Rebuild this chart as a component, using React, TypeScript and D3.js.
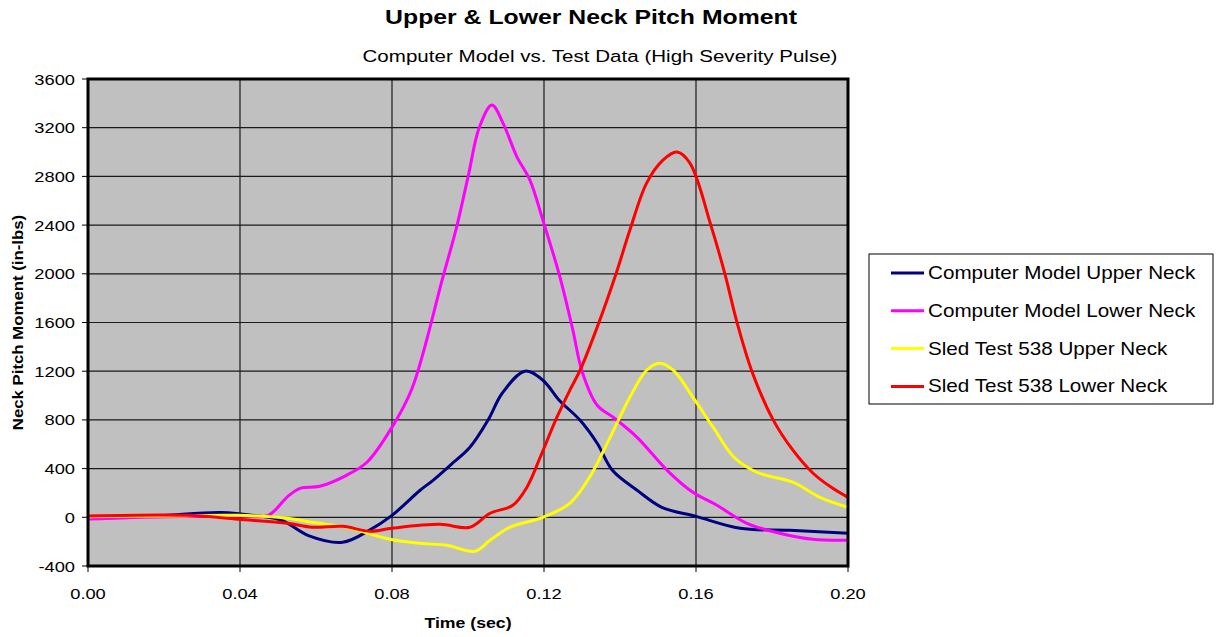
import React from 'react';
import * as d3 from 'd3';

// Time (sec) and moment (in-lbs), one pair of arrays per series
const cmUpperT = [0, 0.01, 0.02, 0.035, 0.045, 0.051, 0.058, 0.067, 0.074, 0.08, 0.0874, 0.0908, 0.0953, 0.1005, 0.1053, 0.109, 0.115, 0.1197, 0.124, 0.1295, 0.134, 0.138, 0.1445, 0.151, 0.16, 0.1716, 0.1847, 0.2];
const cmUpperV = [-10, 0, 15, 40, 10, -25, -150, -205, -107, 16, 222, 304, 427, 575, 800, 1019, 1200, 1126, 962, 797, 608, 386, 222, 82, 8, -90, -107, -131];

const cmLowerT = [0, 0.02, 0.04, 0.0474, 0.0526, 0.0558, 0.061, 0.068, 0.0734, 0.08, 0.0853, 0.0934, 0.097, 0.1, 0.103, 0.1063, 0.1092, 0.1129, 0.1163, 0.1197, 0.1242, 0.1276, 0.1300, 0.134, 0.1382, 0.1445, 0.1524, 0.1592, 0.1655, 0.1734, 0.182, 0.1908, 0.2];
const cmLowerV = [-15, 5, 10, 16, 172, 238, 255, 345, 452, 740, 1060, 1973, 2384, 2794, 3205, 3386, 3238, 2959, 2770, 2441, 1973, 1537, 1200, 920, 822, 657, 386, 205, 99, -49, -131, -181, -189];

const sledUpperT = [0, 0.02, 0.0395, 0.0526, 0.059, 0.068, 0.0795, 0.0874, 0.0945, 0.1018, 0.1058, 0.111, 0.1197, 0.1268, 0.132, 0.1374, 0.1426, 0.147, 0.1505, 0.154, 0.1597, 0.1645, 0.17, 0.176, 0.1855, 0.1926, 0.2];
const sledUpperV = [5, 10, 16, -8, -41, -82, -181, -214, -230, -279, -189, -82, 0, 115, 329, 657, 986, 1208, 1266, 1208, 962, 740, 493, 370, 288, 164, 82];

const sledLowerT = [0, 0.026, 0.0395, 0.0526, 0.059, 0.067, 0.0742, 0.08, 0.0926, 0.1005, 0.1058, 0.1118, 0.1155, 0.119, 0.1234, 0.1268, 0.1295, 0.134, 0.139, 0.1426, 0.147, 0.1513, 0.155, 0.1584, 0.1639, 0.1676, 0.1708, 0.1747, 0.1803, 0.1855, 0.1908, 0.196, 0.2];
const sledLowerV = [10, 16, -16, -49, -82, -74, -115, -90, -58, -82, 33, 99, 247, 493, 822, 1044, 1208, 1562, 2005, 2359, 2745, 2934, 3000, 2909, 2400, 2000, 1600, 1200, 800, 551, 362, 238, 164];

const seriesNames = [
  'Computer Model Upper Neck',
  'Computer Model Lower Neck',
  'Sled Test 538 Upper Neck',
  'Sled Test 538 Lower Neck',
];
const seriesColors = ['#000080', '#ff00ff', '#ffff00', '#ff0000'];

const xTicks = [0, 0.04, 0.08, 0.12, 0.16, 0.2];
const yTicks = [-400, 0, 400, 800, 1200, 1600, 2000, 2400, 2800, 3200, 3600];

const W = 1219;
const H = 637;
const plot = { left: 88, right: 848, top: 79, bottom: 566 };
const font = 'Arial, "Liberation Sans", sans-serif';
const stretch = 1.18; // the source image is widened horizontally

// text that is stretched sideways like the reference
const Txt = ({ x, y, anchor = 'start', size, bold = false, sx = stretch, children }: any) => (
  <text
    transform={`translate(${x}, ${y}) scale(${sx}, 1)`}
    textAnchor={anchor}
    fontSize={size}
    fontWeight={bold ? 'bold' : 'normal'}
  >
    {children}
  </text>
);

export default function App() {
  const x = d3.scaleLinear().domain([0, 0.2]).range([plot.left, plot.right]);
  const y = d3.scaleLinear().domain([-400, 3600]).range([plot.bottom, plot.top]);

  const series = [
    { t: cmUpperT, v: cmUpperV },
    { t: cmLowerT, v: cmLowerV },
    { t: sledUpperT, v: sledUpperV },
    { t: sledLowerT, v: sledLowerV },
  ];

  const line = d3
    .line<[number, number]>()
    .x((d) => x(d[0]))
    .y((d) => y(d[1]))
    .curve(d3.curveCatmullRom.alpha(0.5));

  const legend = { x: 869, y: 254, w: 344, h: 150 };

  return (
    <svg
      width={W}
      height={H}
      style={{ position: 'absolute', left: 0, top: 0, background: '#fff' }}
      fontFamily={font}
    >
      <Txt x={591} y={24} anchor="middle" size={20} bold sx={1.24}>
        Upper &amp; Lower Neck Pitch Moment
      </Txt>
      <Txt x={600} y={62} anchor="middle" size={17} sx={1.21}>
        Computer Model vs. Test Data (High Severity Pulse)
      </Txt>

      <clipPath id="plotClip">
        <rect x={plot.left} y={plot.top} width={plot.right - plot.left} height={plot.bottom - plot.top} />
      </clipPath>

      <rect
        x={plot.left}
        y={plot.top}
        width={plot.right - plot.left}
        height={plot.bottom - plot.top}
        fill="#c0c0c0"
      />

      {/* grid */}
      {yTicks.map((t) => (
        <line key={'gy' + t} x1={plot.left} x2={plot.right} y1={y(t)} y2={y(t)} stroke="#1a1a1a" strokeWidth={1.2} />
      ))}
      {xTicks.map((t) => (
        <line key={'gx' + t} x1={x(t)} x2={x(t)} y1={plot.top} y2={plot.bottom} stroke="#1a1a1a" strokeWidth={1.2} />
      ))}

      {/* series */}
      <g clipPath="url(#plotClip)">
        {series.map((s, i) => (
          <path
            key={seriesNames[i]}
            d={line(s.t.map((t, j) => [t, s.v[j]] as [number, number])) || ''}
            fill="none"
            stroke={seriesColors[i]}
            strokeWidth={3}
            strokeLinejoin="round"
          />
        ))}
      </g>

      {/* border */}
      <rect
        x={plot.left}
        y={plot.top}
        width={plot.right - plot.left}
        height={plot.bottom - plot.top}
        fill="none"
        stroke="#000"
        strokeWidth={3}
      />

      {/* y axis ticks + labels */}
      {yTicks.map((t) => (
        <g key={'yt' + t}>
          <line x1={plot.left - 6} x2={plot.left} y1={y(t)} y2={y(t)} stroke="#000" strokeWidth={1} />
          <Txt x={75} y={y(t) + 5.5} anchor="end" size={15.5}>
            {t}
          </Txt>
        </g>
      ))}
      {/* x axis ticks + labels */}
      {xTicks.map((t) => (
        <g key={'xt' + t}>
          <line x1={x(t)} x2={x(t)} y1={plot.bottom} y2={plot.bottom + 6} stroke="#000" strokeWidth={1} />
          <Txt x={x(t)} y={599} anchor="middle" size={15.5}>
            {t.toFixed(2)}
          </Txt>
        </g>
      ))}

      <Txt x={468} y={628} anchor="middle" size={15} bold>
        Time (sec)
      </Txt>
      <text
        transform={`translate(23, ${(plot.top + plot.bottom) / 2}) rotate(-90) scale(1.12, 1)`}
        textAnchor="middle"
        fontSize={15}
        fontWeight="bold"
      >
        Neck Pitch Moment (in-lbs)
      </text>

      {/* legend */}
      <rect x={legend.x} y={legend.y} width={legend.w} height={legend.h} fill="#fff" stroke="#000" strokeWidth={1} />
      {seriesNames.map((name, i) => {
        const cy = 273 + i * 37.8;
        return (
          <g key={'lg' + name}>
            <line x1={891} x2={924} y1={cy} y2={cy} stroke={seriesColors[i]} strokeWidth={3} />
            <Txt x={928} y={cy + 6} size={17.5}>
              {name}
            </Txt>
          </g>
        );
      })}
    </svg>
  );
}
